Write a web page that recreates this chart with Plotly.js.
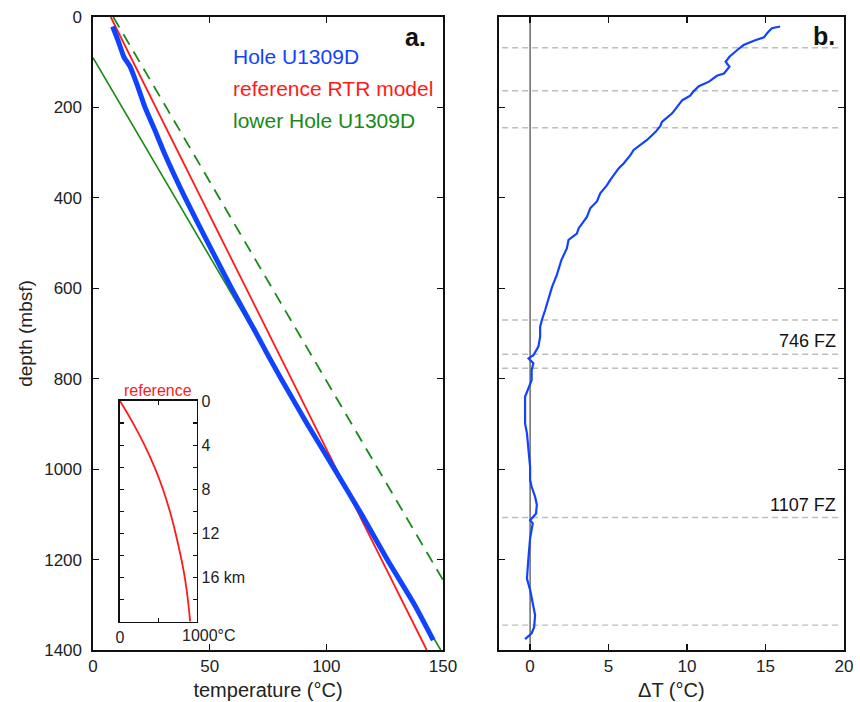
<!DOCTYPE html>
<html>
<head>
<meta charset="utf-8">
<script src="https://cdn.plot.ly/plotly-3.0.1.min.js"></script>
<style>html,body{margin:0;padding:0;background:#fff;}#chart{width:860px;height:702px;}</style>
</head>
<body>
<div id="chart"></div>
<script>
// ---- Panel a: temperature profiles ----
const holeDepth = [21, 50, 88, 110, 147, 200, 250, 300, 400, 508, 600, 700, 750, 800, 900, 1000, 1100, 1200, 1300, 1378];
const holeTemp  = [8.4, 10.6, 13.2, 15.9, 18.7, 22.3, 26.5, 30.5, 39.5, 50.1, 59.4, 70.0, 75.2, 80.6, 91.8, 103.5, 115.1, 126.1, 137.8, 145.8];

const rtrDepth = [0, 1400];
const rtrTemp  = [7.6, 143];

const lowerDepth = [90, 1400];
const lowerTemp  = [0, 149];

const lowerShiftDepth = [0, 1245];
const lowerShiftTemp  = [8.7, 150];

// ---- Inset: reference RTR model to 20 km ----
const insetDepthKm = [0, 2, 4, 6, 8, 10, 12, 14, 16, 18, 20];
const insetTemp    = [0, 170, 320, 450, 560, 650, 725, 790, 845, 885, 915];

// ---- Panel b: temperature residual ----
const dtDepth = [21,25,36,45,52,62,73,88,99,110,125,130,143,153,165,174,184,198,213,232,241,254,272,294,305,324,335,361,372,390,408,423,442,467,479,493,512,537,571,597,626,648,670,685,707,729,748,755,766,781,803,821,840,869,899,921,958,995,1024,1039,1061,1079,1098,1113,1120,1153,1194,1242,1267,1297,1323,1349,1363,1376];
const dtVal   = [15.93,15.4,15.1,14.9,14.3,13.6,13.2,12.7,12.46,12.7,12.35,11.9,11.4,10.75,10.4,10.2,9.7,9.4,9.05,8.4,8.3,8.0,7.45,6.6,6.4,5.96,5.64,5.1,4.9,4.47,4.26,3.83,3.62,3.1,2.98,2.45,2.34,2.0,1.7,1.4,1.17,0.96,0.75,0.64,0.64,0.53,0.21,-0.1,0.21,0.1,0.1,-0.1,-0.32,-0.32,-0.32,-0.2,-0.1,0,0,0.1,0.32,0.43,0.38,0,0.17,0,-0.1,-0.2,0,0.17,0.32,0.26,0.1,-0.32];

// fault zones / marker depths
const markDepths = [68, 163, 245, 670, 746, 777, 1107, 1345];
const fzLabels = [{depth: 746, text: '746 FZ'}, {depth: 1107, text: '1107 FZ'}];

const xTicksA = [0, 50, 100, 150];
const xTicksB = [0, 5, 10, 15, 20];
const insetYTicks = [0, 2, 4, 6, 8, 10, 12, 14, 16, 18];
const insetYText  = ['0', '', '4', '', '8', '', '12', '', '16 km', ''];

const BLUE = '#1043ff', RED = '#ff1a1a', GREEN = '#178a17';
const W = 860, H = 702;

const traces = [
  {x: lowerTemp, y: lowerDepth, xaxis: 'x', yaxis: 'y', mode: 'lines', line: {color: GREEN, width: 1.6}},
  {x: lowerShiftTemp, y: lowerShiftDepth, xaxis: 'x', yaxis: 'y', mode: 'lines', line: {color: GREEN, width: 1.8, dash: '12px,8px'}},
  {x: rtrTemp, y: rtrDepth, xaxis: 'x', yaxis: 'y', mode: 'lines', line: {color: RED, width: 1.8}},
  {x: holeTemp, y: holeDepth, xaxis: 'x', yaxis: 'y', mode: 'lines', line: {color: BLUE, width: 5, shape: 'spline', smoothing: 0.5}},
  {x: dtVal, y: dtDepth, xaxis: 'x2', yaxis: 'y2', mode: 'lines', line: {color: BLUE, width: 2.2}},
  {x: insetTemp, y: insetDepthKm, xaxis: 'x3', yaxis: 'y3', mode: 'lines', line: {color: RED, width: 1.8, shape: 'spline'}}
];

const axBase = {
  showline: true, linecolor: '#111', linewidth: 1.6, mirror: 'ticks',
  ticks: 'inside', ticklen: 6, tickcolor: '#111', tickwidth: 1.2,
  showgrid: false, zeroline: false, fixedrange: true
};

const shapes = markDepths.map(d => ({
  type: 'line', xref: 'x2 domain', x0: 0.01, x1: 0.985, yref: 'y2', y0: d, y1: d,
  line: {color: '#bdbdbd', width: 1.4, dash: '6px,4px'}, layer: 'below'
}));
shapes.push({type: 'line', xref: 'x2', x0: 0, x1: 0, yref: 'y2 domain', y0: 0, y1: 1,
  line: {color: '#444', width: 1.2}, layer: 'below'});

const annotations = [
  {text: '<b>a.</b>', x: 415 / W, y: 1 - 37 / H, xref: 'paper', yref: 'paper', xanchor: 'center', yanchor: 'middle', showarrow: false, font: {size: 25, color: '#111'}},
  {text: '<b>b.</b>', x: 824 / W, y: 1 - 36 / H, xref: 'paper', yref: 'paper', xanchor: 'center', yanchor: 'middle', showarrow: false, font: {size: 25, color: '#111'}},
  {text: 'Hole U1309D', x: 231 / W, y: 1 - 56.7 / H, xref: 'paper', yref: 'paper', xanchor: 'left', yanchor: 'middle', showarrow: false, font: {size: 21, color: BLUE}},
  {text: 'reference RTR model', x: 231 / W, y: 1 - 88.3 / H, xref: 'paper', yref: 'paper', xanchor: 'left', yanchor: 'middle', showarrow: false, font: {size: 21, color: RED}},
  {text: 'lower Hole U1309D', x: 231 / W, y: 1 - 120.7 / H, xref: 'paper', yref: 'paper', xanchor: 'left', yanchor: 'middle', showarrow: false, font: {size: 21, color: GREEN}},
  {text: 'reference', x: 158 / W, y: 1 - 390.5 / H, xref: 'paper', yref: 'paper', xanchor: 'center', yanchor: 'middle', showarrow: false, font: {size: 16, color: RED}},
  {text: '1000°C', x: 1000, xref: 'x3', y: 1 - 635 / H, yref: 'paper', xanchor: 'center', yanchor: 'middle', xshift: 12, showarrow: false, font: {size: 16, color: '#222'}}
];
fzLabels.forEach(f => annotations.push({
  text: f.text, x: 838 / W, xref: 'paper', xanchor: 'right', y: f.depth, yref: 'y2', yanchor: 'bottom', yshift: 1,
  showarrow: false, font: {size: 18, color: '#111'}
}));

const layout = {
  width: W, height: H, autosize: false,
  margin: {l: 0, r: 0, t: 0, b: 0},
  paper_bgcolor: '#fff', plot_bgcolor: 'rgba(0,0,0,0)', showlegend: false,
  font: {family: 'Liberation Sans, Arial, Helvetica, sans-serif', size: 17, color: '#222'},
  xaxis: Object.assign({}, axBase, {domain: [93 / W, 443 / W], range: [0, 150], anchor: 'y',
    tickvals: xTicksA, title: {text: 'temperature (°C)', font: {size: 20}, standoff: 8}}),
  yaxis: Object.assign({}, axBase, {domain: [1 - 650 / H, 1 - 17 / H], range: [1400, 0], anchor: 'x',
    dtick: 200, tick0: 0, ticklabelstandoff: 6, title: {text: 'depth (mbsf)', font: {size: 19}, standoff: 6}}),
  xaxis2: Object.assign({}, axBase, {domain: [498.7 / W, 844 / W], range: [-2, 20], anchor: 'y2',
    tickvals: xTicksB, title: {text: 'ΔT (°C)', font: {size: 20}, standoff: 8}}),
  yaxis2: Object.assign({}, axBase, {domain: [1 - 650 / H, 1 - 17 / H], range: [1400, 0], anchor: 'x2',
    dtick: 200, tick0: 0, showticklabels: false}),
  xaxis3: Object.assign({}, axBase, {domain: [120 / W, 196.7 / W], range: [0, 1000], anchor: 'y3',
    tickvals: [0, 500, 1000], ticktext: ['0', '', ''], ticklen: 4, tickfont: {size: 16}, linewidth: 1.6}),
  yaxis3: Object.assign({}, axBase, {domain: [1 - 621.7 / H, 1 - 401 / H], range: [20, 0], anchor: 'x3', side: 'right',
    tickvals: insetYTicks, ticktext: insetYText, ticklen: 4, tickfont: {size: 16}, linewidth: 1.6}),
  shapes: shapes,
  annotations: annotations
};

Plotly.newPlot('chart', traces, layout, {staticPlot: true, displayModeBar: false});
</script>
</body>
</html>
